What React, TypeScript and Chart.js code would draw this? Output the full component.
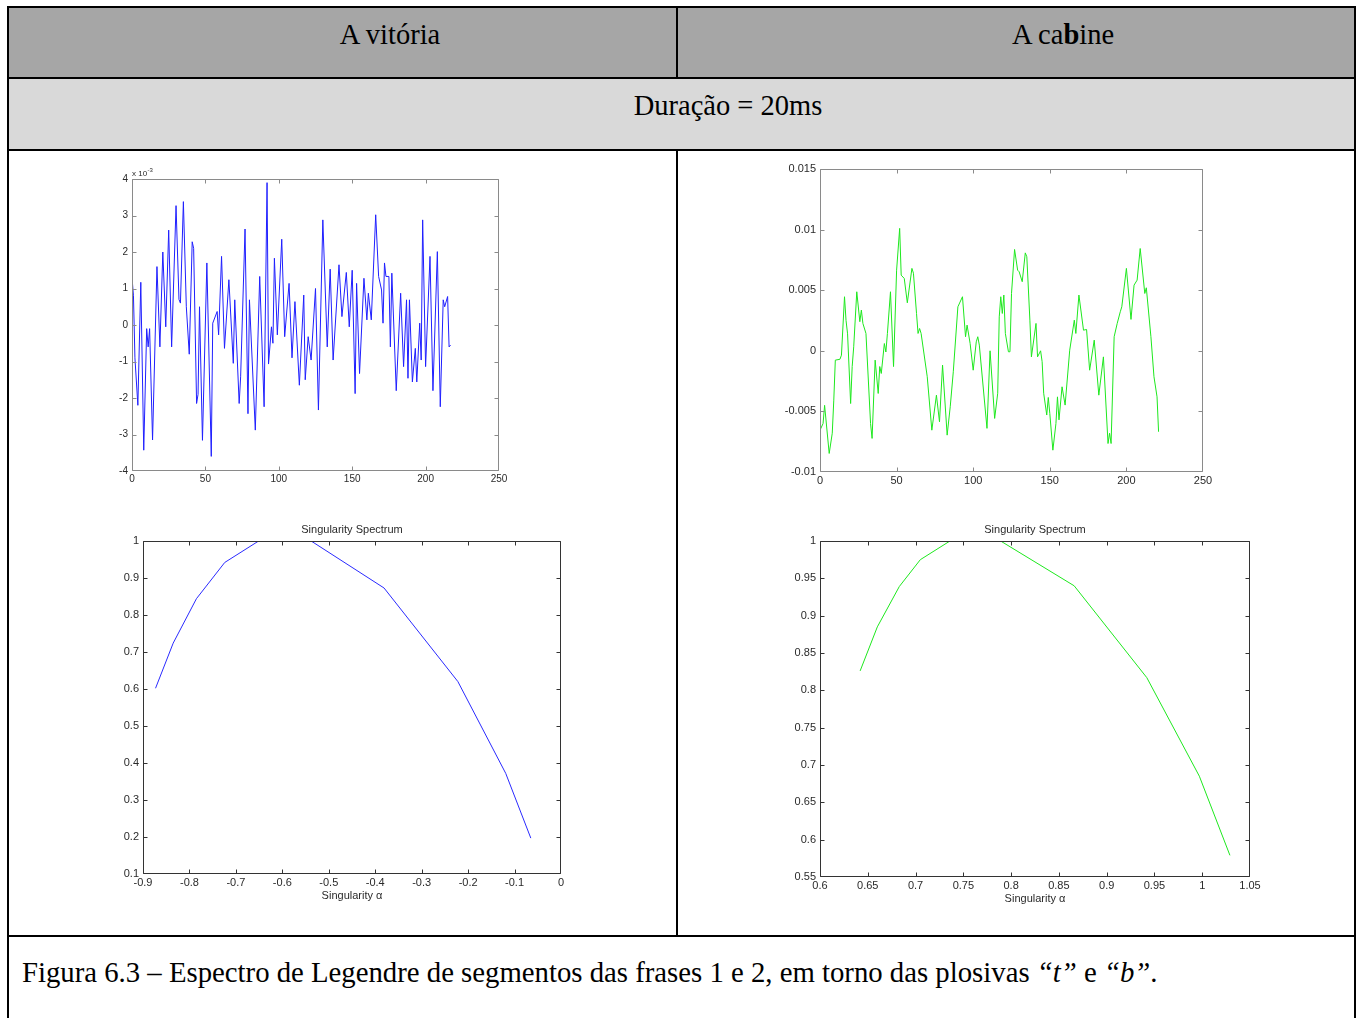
import React, { useEffect, useRef } from "react";
import { Chart, registerables } from "chart.js";

Chart.register(...registerables);

// ---------- DATA ----------
// "A vitória" waveform (sample index, amplitude in units of 1e-3)
const vitoriaSamples = [
  0, 1, 2, 4, 6, 8, 10, 11, 12, 14,
  17, 19, 21, 23, 25, 27, 30, 32, 33, 35,
  37, 39, 41, 42, 44, 45, 46, 48, 51, 54,
  55, 58, 59, 61, 63, 66, 69, 70, 73, 74,
  77, 79, 80, 84, 87, 90, 92, 93, 95, 96,
  97, 99, 102, 104, 107, 109, 111, 114, 117, 118,
  120, 122, 125, 127, 130, 133, 135, 137, 141, 143,
  146, 148, 150, 152, 153, 155, 158, 160, 161, 163,
  166, 168, 170, 171, 172, 173, 175, 176, 177, 180,
  183, 185, 187, 188, 189, 191, 193, 194, 196, 197,
  198, 200, 203, 205, 208, 210, 212, 213, 215, 216, 217,
];
const vitoriaWave = [
  1.3, 0.8, -0.9, -2.2, 1.17, -3.43, -0.1, -0.6, -0.1, -3.15,
  1.6, -0.6, 2.0, -0.05, 2.6, -0.6, 3.27, 0.7, 0.6, 3.38,
  0.5, -0.8, 2.28, 2.1, -2.15, -1.9, 0.5, -3.16, 1.7, -3.6,
  0.05, 0.37, -0.27, 1.88, -0.64, 1.24, -1.05, 0.69, -2.15, -1.42,
  2.63, -2.43, 0.69, -2.88, 1.33, -2.24, 3.9, -1.07, -0.05, -0.5,
  1.83, -0.27, 2.35, -0.32, 1.14, -0.9, 0.64, -1.65, 0.82, -1.5,
  -0.32, -0.96, 1.0, -2.33, 2.88, -0.6, 1.53, -0.96, 1.65, 0.23,
  1.44, -0.05, 1.5, -1.88, 1.14, -1.33, 1.28, 0.14, 0.87, 0.14,
  3.02, 1.33, 0.96, 0.05, 1.7, 1.33, 1.33, -0.6, 1.42, -1.8,
  0.87, -1.14, 0.69, -1.46, 0.69, -1.56, -0.64, -1.56, 0.05, -0.96,
  2.88, -1.14, 1.88, -1.8, 2.01, -2.24, 0.69, 0.5, 0.78, -0.6, -0.55,
];

// "A cabine" waveform (sample index, amplitude)
const cabineSamples = [
  0, 2, 3, 6, 8, 9, 10, 13, 14, 16,
  17, 18, 20, 21, 22, 24, 26, 27, 28, 30,
  33, 34, 36, 38, 39, 40, 42, 43, 44, 46,
  48, 50, 52, 53, 55, 57, 60, 61, 63, 64,
  65, 66, 70, 73, 76, 78, 80, 83, 85, 87,
  90, 93, 95, 96, 98, 100, 102, 103, 104, 109,
  111, 114, 116, 117, 118, 119, 120, 121, 123, 124,
  125, 127, 129, 130, 132, 134, 135, 137, 138, 141,
  142, 144, 145, 146, 148, 149, 150, 152, 154, 155,
  156, 158, 160, 163, 166, 167, 169, 172, 174, 176,
  179, 182, 185, 188, 189, 190, 192, 194, 196, 197,
  200, 203, 205, 207, 209, 212, 213, 216, 218, 220, 221,
];
const cabineWave = [
  -0.00655, -0.006, -0.0045, -0.00847, -0.0068, -0.00407, -0.00077, -0.0007, -0.00036, 0.00446,
  0.0025, 0.0014, -0.00435, -0.0013, 0.00033, 0.00487, 0.0024, 0.00336, 0.00226, 0.00143,
  -0.006, -0.00723, -0.00077, -0.00352, -0.0013, -0.00187, 0.0006, -0.0001, 0.00143, 0.00487,
  -0.0013, 0.00665, 0.0101, 0.00624, 0.00597, 0.00396, 0.0068, 0.0064, 0.00308, 0.00143,
  0.00184, 0.00143, -0.00214, -0.00655, -0.00366, -0.00586, -0.00118, -0.00696, -0.00462, -0.00173,
  0.00363, 0.00446, 0.00116, 0.00212, 0.0006, -0.0016, 0.00074, 0.00116, 0.00047, -0.0064,
  0.0, -0.00558, -0.0035, 0.0028, 0.00446, 0.00308, 0.0046, 0.00143, -0.00008, -0.00008,
  0.00473, 0.00836, 0.00665, 0.00652, 0.0057, 0.00808, 0.00776, 0.00253, -0.0005, 0.00226,
  -0.0005, 0.0, -0.0009, -0.0035, -0.0053, -0.00385, -0.00517, -0.0082, -0.006, -0.0038,
  -0.0057, -0.00297, -0.00448, 0.00005, 0.00253, 0.00143, 0.0046, 0.0017, 0.00176, -0.0016,
  0.00088, -0.00366, -0.0005, -0.00765, -0.0068, -0.00765, 0.00116, 0.00226, 0.00322, 0.00363,
  0.0068, 0.00259, 0.00542, 0.00583, 0.00844, 0.00473, 0.0052, 0.00116, -0.00214, -0.0038, -0.00668,
];

// Singularity spectra
const vitoriaAlpha = [-0.873, -0.835, -0.785, -0.724, -0.651, -0.538, -0.381, -0.222, -0.119, -0.065];
const vitoriaF = [0.602, 0.724, 0.844, 0.942, 1.0, 1.0, 0.873, 0.62, 0.372, 0.197];
const cabineAlpha = [0.642, 0.66, 0.683, 0.705, 0.736, 0.789, 0.866, 0.942, 0.997, 1.029];
const cabineF = [0.826, 0.885, 0.939, 0.975, 1.0, 1.0, 0.94, 0.817, 0.685, 0.579];

// Text
const headerLeft = "A vitória";
const durationLabel = "Duração = 20ms";
const spectrumTitle = "Singularity Spectrum";
const alphaLabel = "Singularity α";

const SANS = "'Liberation Sans', Arial, sans-serif";
const SERIF = "'Liberation Serif', 'Times New Roman', serif";

type Box = { left: number; top: number; width: number; height: number };

interface PanelProps {
  plot: Box;
  xs: number[];
  ys: number[];
  color: string;
  xMin: number;
  xMax: number;
  xStep: number;
  yMin: number;
  yMax: number;
  yStep: number;
  fontSize: number;
  frameColor: string;
  fmtX: (v: number) => string;
  fmtY: (v: number) => string;
  title?: string;
  xLabel?: string;
  exponent?: boolean;
}

const L = 50;
const T = 30;
const R = 30;
const B = 40;

function Panel(p: PanelProps) {
  const ref = useRef<HTMLCanvasElement>(null);
  useEffect(() => {
    if (!ref.current) return;
    const tickFont = { family: SANS, size: p.fontSize };
    const textColor = "#2a2a2a";
    const framePlugin = {
      id: "matlabFrame",
      afterDraw(chart: any) {
        const { ctx, chartArea: a, scales } = chart;
        ctx.save();
        ctx.strokeStyle = p.frameColor;
        ctx.lineWidth = 1;
        const l = Math.round(a.left) + 0.5;
        const t = Math.round(a.top) + 0.5;
        const r = Math.round(a.right) - 0.5;
        const b = Math.round(a.bottom) - 0.5;
        ctx.beginPath();
        ctx.rect(l, t, r - l, b - t);
        const tl = 4;
        for (const tk of scales.x.ticks) {
          let px = Math.round(scales.x.getPixelForValue(tk.value)) + 0.5;
          px = Math.min(Math.max(px, l), r);
          ctx.moveTo(px, b);
          ctx.lineTo(px, b - tl);
          ctx.moveTo(px, t);
          ctx.lineTo(px, t + tl);
        }
        for (const tk of scales.y.ticks) {
          let py = Math.round(scales.y.getPixelForValue(tk.value)) + 0.5;
          py = Math.min(Math.max(py, t), b);
          ctx.moveTo(l, py);
          ctx.lineTo(l + tl, py);
          ctx.moveTo(r, py);
          ctx.lineTo(r - tl, py);
        }
        ctx.stroke();
        if (p.exponent) {
          ctx.fillStyle = textColor;
          ctx.textBaseline = "alphabetic";
          ctx.textAlign = "left";
          ctx.font = `8px ${SANS}`;
          const base = "x 10";
          ctx.fillText(base, a.left, a.top - 3);
          const w = ctx.measureText(base).width;
          ctx.font = `6px ${SANS}`;
          ctx.fillText("-3", a.left + w + 0.5, a.top - 7);
        }
        ctx.restore();
      },
    };
    const titleLH = 11 * 1.2;
    const chart = new Chart(ref.current, {
      type: "line",
      data: {
        datasets: [
          {
            data: p.xs.map((x, i) => ({ x, y: p.ys[i] })),
            borderColor: p.color,
            borderWidth: 1,
            pointRadius: 0,
            tension: 0,
            fill: false,
          },
        ],
      },
      options: {
        animation: false,
        responsive: false,
        events: [],
        layout: { padding: { left: 0, right: R, top: p.title ? 0 : T, bottom: 0 } },
        plugins: {
          legend: { display: false },
          tooltip: { enabled: false },
          title: p.title
            ? {
                display: true,
                text: p.title,
                fullSize: false,
                color: textColor,
                font: { family: SANS, size: 11, weight: "normal" },
                padding: { top: T - 11 - titleLH / 2, bottom: 11 - titleLH / 2 },
              }
            : { display: false },
        },
        scales: {
          x: {
            type: "linear",
            min: p.xMin,
            max: p.xMax,
            afterFit(s: any) {
              s.height = B;
            },
            grid: { display: false, drawTicks: false, tickLength: 0 },
            border: { display: false },
            ticks: {
              stepSize: p.xStep,
              autoSkip: false,
              maxRotation: 0,
              minRotation: 0,
              font: tickFont,
              color: textColor,
              padding: 2,
              callback: (v: any) => p.fmtX(Number(v)),
            },
            title: p.xLabel
              ? {
                  display: true,
                  text: p.xLabel,
                  color: textColor,
                  font: { family: SANS, size: 11 },
                  padding: { top: 0, bottom: B - 22 - titleLH / 2 },
                }
              : { display: false },
          },
          y: {
            type: "linear",
            min: p.yMin,
            max: p.yMax,
            afterFit(s: any) {
              s.width = L;
            },
            grid: { display: false, drawTicks: false, tickLength: 0 },
            border: { display: false },
            ticks: {
              stepSize: p.yStep,
              autoSkip: false,
              font: tickFont,
              color: textColor,
              padding: 4,
              callback: (v: any) => p.fmtY(Number(v)),
            },
          },
        },
      } as any,
      plugins: [framePlugin],
    });
    return () => chart.destroy();
  }, []);
  return (
    <canvas
      ref={ref}
      width={p.plot.width + L + R}
      height={p.plot.height + T + B}
      style={{ position: "absolute", left: p.plot.left - L, top: p.plot.top - T }}
    />
  );
}

const fmt = (d: number) => (v: number) => String(Number(v.toFixed(d)));

function Line({ l, t, w, h }: { l: number; t: number; w: number; h: number }) {
  return <div style={{ position: "absolute", left: l, top: t, width: w, height: h, background: "#000" }} />;
}

function CText({ cx, cy, children }: { cx: number; cy: number; children: React.ReactNode }) {
  return (
    <div
      style={{
        position: "absolute",
        left: cx - 400,
        width: 800,
        top: cy - 25,
        height: 50,
        display: "flex",
        alignItems: "center",
        justifyContent: "center",
        whiteSpace: "nowrap",
        fontFamily: SERIF,
        fontSize: 28.5,
        color: "#000",
      }}
    >
      {children}
    </div>
  );
}

export default function App() {
  return (
    <div
      style={{
        position: "absolute",
        left: 0,
        top: 0,
        width: 1362,
        height: 1018,
        overflow: "hidden",
        background: "#fff",
      }}
    >
      <div style={{ position: "absolute", left: 9, top: 8, width: 1345, height: 69, background: "#a6a6a6" }} />
      <div style={{ position: "absolute", left: 9, top: 79, width: 1345, height: 70, background: "#d9d9d9" }} />
      <Line l={7} t={6} w={1349} h={2} />
      <Line l={7} t={77} w={1349} h={2} />
      <Line l={7} t={149} w={1349} h={2} />
      <Line l={7} t={935} w={1349} h={2} />
      <Line l={7} t={6} w={2} h={1012} />
      <Line l={1354} t={6} w={2} h={1012} />
      <Line l={676} t={6} w={2} h={72} />
      <Line l={676} t={149} w={2} h={788} />

      <CText cx={390} cy={35}>{headerLeft}</CText>
      <CText cx={1063} cy={35}>
        <span>
          A ca<b>b</b>ine
        </span>
      </CText>
      <CText cx={728} cy={106}>{durationLabel}</CText>
      <div
        style={{
          position: "absolute",
          left: 22,
          top: 947,
          height: 50,
          display: "flex",
          alignItems: "center",
          whiteSpace: "nowrap",
          fontFamily: SERIF,
          fontSize: 28.75,
          color: "#000",
        }}
      >
        <span>
          Figura 6.3 – Espectro de Legendre de segmentos das frases 1 e 2, em torno das plosivas <i>“t”</i> e{" "}
          <i>“b”</i>.
        </span>
      </div>

      <Panel
        plot={{ left: 132, top: 179, width: 367, height: 292 }}
        xs={vitoriaSamples}
        ys={vitoriaWave}
        color="#1f1fff"
        xMin={0}
        xMax={250}
        xStep={50}
        yMin={-4}
        yMax={4}
        yStep={1}
        fontSize={10}
        frameColor="#8a8a8a"
        fmtX={fmt(0)}
        fmtY={fmt(0)}
        exponent
      />
      <Panel
        plot={{ left: 820, top: 169, width: 383, height: 303 }}
        xs={cabineSamples}
        ys={cabineWave}
        color="#1ee81e"
        xMin={0}
        xMax={250}
        xStep={50}
        yMin={-0.01}
        yMax={0.015}
        yStep={0.005}
        fontSize={11}
        frameColor="#8a8a8a"
        fmtX={fmt(0)}
        fmtY={fmt(3)}
      />
      <Panel
        plot={{ left: 143, top: 541, width: 418, height: 333 }}
        xs={vitoriaAlpha}
        ys={vitoriaF}
        color="#2a2aff"
        xMin={-0.9}
        xMax={0}
        xStep={0.1}
        yMin={0.1}
        yMax={1}
        yStep={0.1}
        fontSize={11}
        frameColor="#333"
        fmtX={fmt(1)}
        fmtY={fmt(1)}
        title={spectrumTitle}
        xLabel={alphaLabel}
      />
      <Panel
        plot={{ left: 820, top: 541, width: 430, height: 336 }}
        xs={cabineAlpha}
        ys={cabineF}
        color="#1ee81e"
        xMin={0.6}
        xMax={1.05}
        xStep={0.05}
        yMin={0.55}
        yMax={1}
        yStep={0.05}
        fontSize={11}
        frameColor="#333"
        fmtX={fmt(2)}
        fmtY={fmt(2)}
        title={spectrumTitle}
        xLabel={alphaLabel}
      />
    </div>
  );
}
